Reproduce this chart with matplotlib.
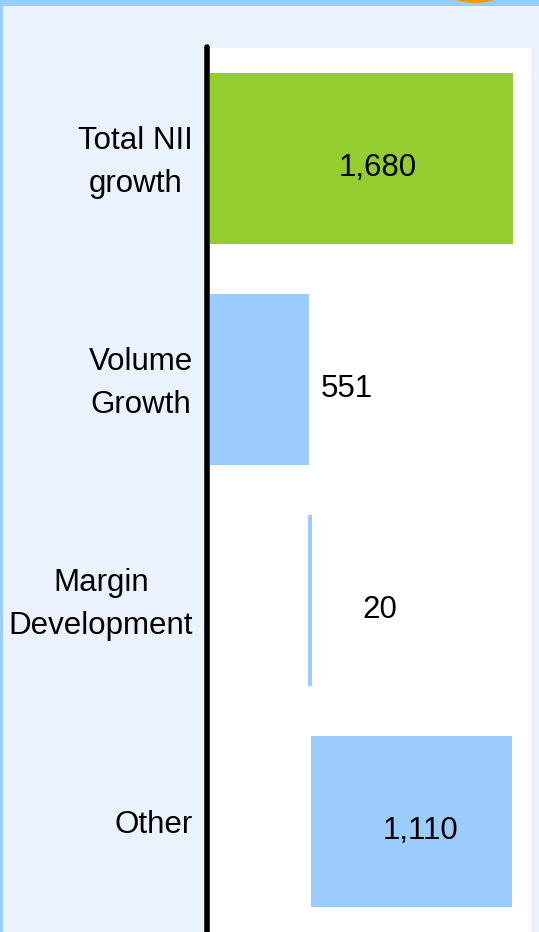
"""
Horizontal waterfall: drivers of net interest income (NII) growth.
"""
import matplotlib.pyplot as plt
from matplotlib.patches import Circle, Rectangle

# ── data ──────────────────────────────────────────────────────────────────────
categories = ["Total NII\ngrowth", "Volume\nGrowth", "Margin\nDevelopment", "Other"]
values = [1680, 551, 20, 1110]
starts = [0, 0, 545, 562]          # waterfall offsets
value_labels = ["1,680", "551", "20", "1,110"]
label_x = [930, 760, 942, 1170]    # where each value text sits (data units)

GREEN = "#94cd2f"
BLUE = "#9ccbfd"
BG = "#eaf3fd"
BAND = "#99ccff"
FONT = "Liberation Sans"

W, H = 539, 932
fig = plt.figure(figsize=(W / 100, H / 100), dpi=100)
fig.patch.set_facecolor(BG)

# slide decorations: top band, left edge, orange bubble
fig.add_artist(Rectangle((0, 1 - 6 / H), 1, 6 / H, transform=fig.transFigure,
                         color=BAND, lw=0))
fig.add_artist(Rectangle((0, 0), 3 / W, 1, transform=fig.transFigure,
                         color=BAND, lw=0))
fig.add_artist(Circle((475, H + 62), 65, transform=None, color="#ff9900", lw=0))

# plot area: x 210..531 px, y 48..932 px
ax = fig.add_axes([210 / W, 0, (531 - 210) / W, (H - 48) / H])
ax.set_facecolor("white")

colors = [GREEN, BLUE, BLUE, BLUE]
ypos = list(range(len(categories)))
ax.barh(ypos, values, left=starts, height=0.774, color=colors, lw=0)

for y, lx, txt in zip(ypos, label_x, value_labels):
    ax.text(lx, y + 0.045, txt, ha="center", va="center", fontsize=22.5,
            family=FONT)

# category labels, right edge at ~193 px, lines centred
for y, cat in zip(ypos, categories):
    ax.text(-17 / 321, y + 0.018, cat, transform=ax.get_yaxis_transform(),
            ha="right", va="center", multialignment="center",
            fontsize=22.5, family=FONT, linespacing=1.56)

ax.set_xlim(0, 1780)
ax.set_ylim(3.5, -0.5)
ax.set_xticks([])
ax.set_yticks([])
for s in ["top", "right", "bottom"]:
    ax.spines[s].set_visible(False)
ax.spines["left"].set_linewidth(4)
ax.spines["left"].set_capstyle("round")
ax.spines["left"].set_position(("outward", 2))
ax.spines["left"].set_bounds(3.5, -0.505)

fig.savefig("out.png", dpi=100, facecolor=BG)
